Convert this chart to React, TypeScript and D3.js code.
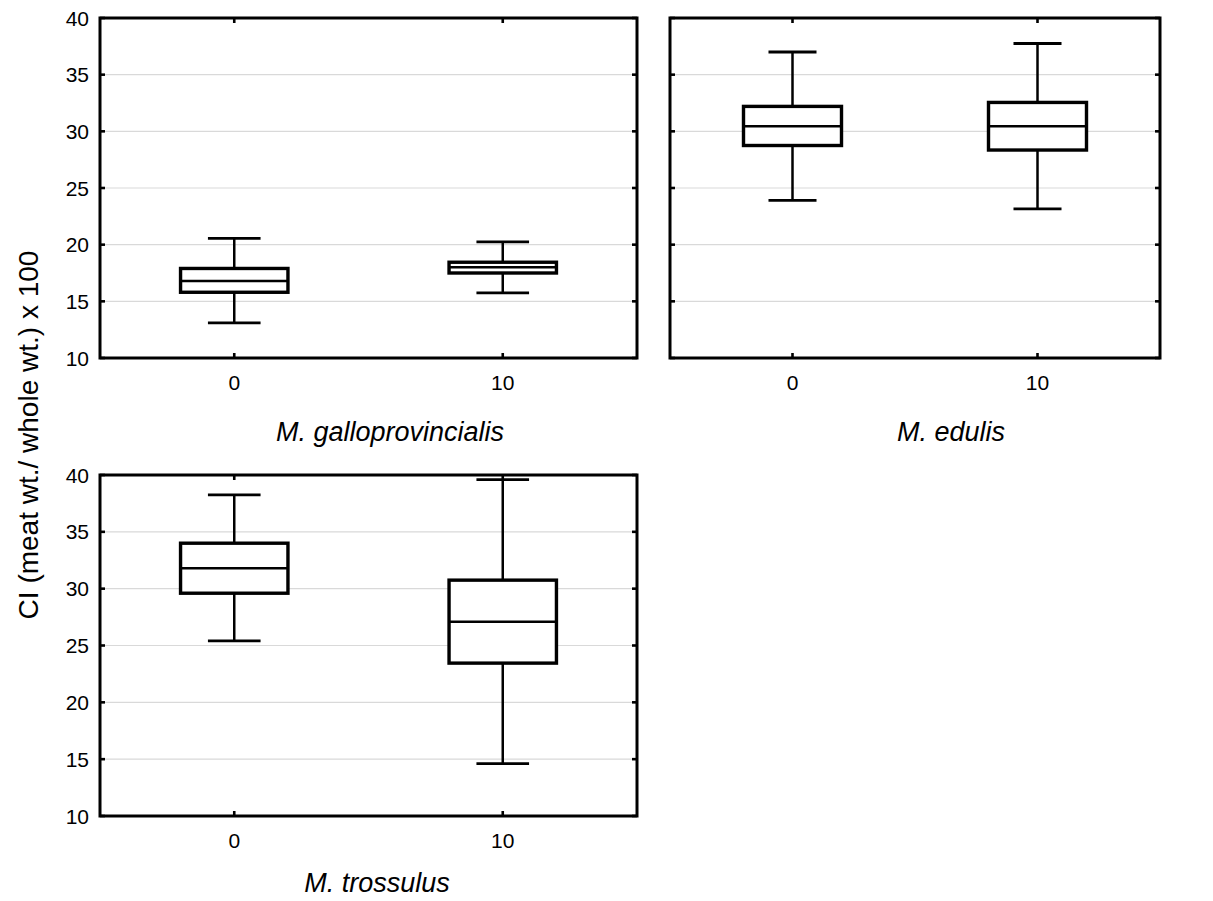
import React from "react";
import * as d3 from "d3";

const categories = ["0", "10"];
const panelTitles = ["M. galloprovincialis", "M. edulis", "M. trossulus"];
const whiskerLow = [[13.1, 15.75], [23.9, 23.15], [25.4, 14.6]];
const q1 = [[15.8, 17.5], [28.75, 28.35], [29.6, 23.45]];
const median = [[16.8, 18.0], [30.45, 30.45], [31.8, 27.1]];
const q3 = [[17.9, 18.45], [32.2, 32.55], [34.0, 30.75]];
const whiskerHigh = [[20.55, 20.25], [37.0, 37.75], [38.25, 39.6]];
const yTicks = [10, 15, 20, 25, 30, 35, 40];
const yDomain = [10, 40];
const yLabel = "CI (meat wt./ whole wt.) x 100";

const W = 1213;
const H = 901;
const FONT = "'Liberation Sans', Arial, Helvetica, sans-serif";

const layout = [
  { x0: 100, x1: 637, y0: 18, y1: 358, showY: true, titleX: 390, titleY: 441 },
  { x0: 670, x1: 1160, y0: 18, y1: 358, showY: false, titleX: 951, titleY: 441 },
  { x0: 100, x1: 637, y0: 475, y1: 816, showY: true, titleX: 377, titleY: 892 },
];

function Panel({ idx }: { idx: number }) {
  const L = layout[idx];
  const y = d3.scaleLinear().domain(yDomain).range([L.y1, L.y0]);
  const x = d3.scalePoint().domain(categories).range([L.x0, L.x1]).padding(0.5);
  const pw = L.x1 - L.x0;
  const boxW = pw * 0.2;
  const capW = pw * 0.098;
  const tickLen = 5;
  return (
    <g>
      {yTicks
        .filter((t) => t !== yDomain[0] && t !== yDomain[1])
        .map((t) => (
          <line key={"g" + t} x1={L.x0} x2={L.x1} y1={y(t)} y2={y(t)} stroke="#d9d9d9" strokeWidth={1.2} />
        ))}
      {categories.map((c, i) => {
        const cx = x(c) as number;
        return (
          <g key={"b" + c}>
            <line x1={cx} x2={cx} y1={y(whiskerHigh[idx][i])} y2={y(q3[idx][i])} stroke="#000" strokeWidth={2.5} />
            <line x1={cx} x2={cx} y1={y(q1[idx][i])} y2={y(whiskerLow[idx][i])} stroke="#000" strokeWidth={2.5} />
            <line x1={cx - capW / 2} x2={cx + capW / 2} y1={y(whiskerHigh[idx][i])} y2={y(whiskerHigh[idx][i])} stroke="#000" strokeWidth={2.8} />
            <line x1={cx - capW / 2} x2={cx + capW / 2} y1={y(whiskerLow[idx][i])} y2={y(whiskerLow[idx][i])} stroke="#000" strokeWidth={2.8} />
            <rect
              x={cx - boxW / 2}
              y={y(q3[idx][i])}
              width={boxW}
              height={y(q1[idx][i]) - y(q3[idx][i])}
              fill="#fff"
              stroke="#000"
              strokeWidth={3.4}
            />
            <line x1={cx - boxW / 2} x2={cx + boxW / 2} y1={y(median[idx][i])} y2={y(median[idx][i])} stroke="#000" strokeWidth={2.5} />
          </g>
        );
      })}
      {yTicks.map((t) => (
        <g key={"t" + t}>
          <line x1={L.x0} x2={L.x0 + tickLen} y1={y(t)} y2={y(t)} stroke="#000" strokeWidth={2.6} />
          <line x1={L.x1} x2={L.x1 - tickLen} y1={y(t)} y2={y(t)} stroke="#000" strokeWidth={2.6} />
          {L.showY && (
            <text x={L.x0 - 11} y={y(t)} dy="0.36em" textAnchor="end" fontSize={21} fontFamily={FONT} fill="#000">
              {t}
            </text>
          )}
        </g>
      ))}
      {categories.map((c) => {
        const cx = x(c) as number;
        return (
          <g key={"c" + c}>
            <line x1={cx} x2={cx} y1={L.y0} y2={L.y0 + tickLen} stroke="#000" strokeWidth={2.6} />
            <line x1={cx} x2={cx} y1={L.y1} y2={L.y1 - tickLen} stroke="#000" strokeWidth={2.6} />
            <text x={cx} y={L.y1 + 32} textAnchor="middle" fontSize={21} fontFamily={FONT} fill="#000">
              {c}
            </text>
          </g>
        );
      })}
      <rect x={L.x0} y={L.y0} width={pw} height={L.y1 - L.y0} fill="none" stroke="#000" strokeWidth={3} />
      <text x={L.titleX} y={L.titleY} textAnchor="middle" fontSize={27} fontStyle="italic" fontFamily={FONT} fill="#000">
        {panelTitles[idx]}
      </text>
    </g>
  );
}

export default function App() {
  return (
    <svg
      width={W}
      height={H}
      viewBox={`0 0 ${W} ${H}`}
      style={{ position: "absolute", left: 0, top: 0, background: "#fff" }}
    >
      <rect x={0} y={0} width={W} height={H} fill="#fff" />
      {panelTitles.map((_, i) => (
        <Panel key={i} idx={i} />
      ))}
      <text
        transform="translate(28,435) rotate(-90)"
        textAnchor="middle"
        dominantBaseline="central"
        fontSize={28}
        fontFamily={FONT}
        fill="#000"
      >
        {yLabel}
      </text>
    </svg>
  );
}
